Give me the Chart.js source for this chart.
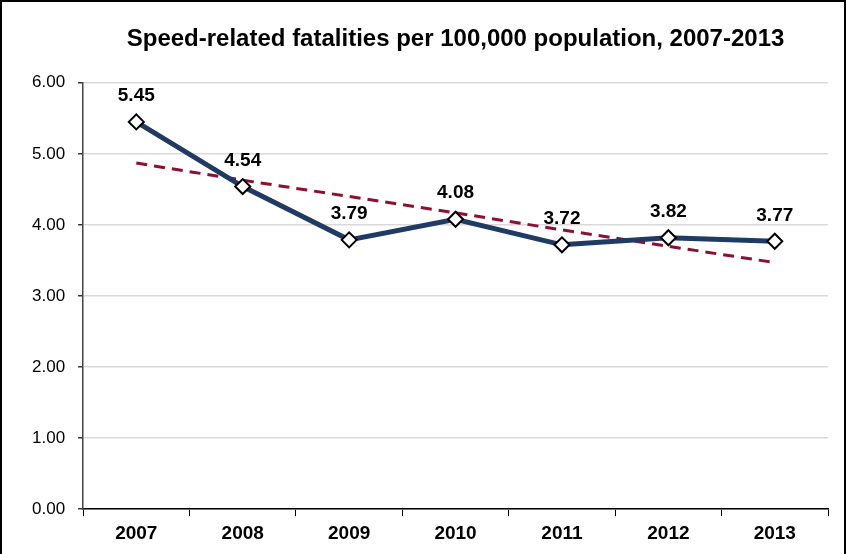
<!DOCTYPE html>
<html>
<head>
<meta charset="utf-8">
<script src="https://cdn.jsdelivr.net/npm/chart.js@4/dist/chart.umd.min.js"></script>
<style>
  html, body { margin: 0; padding: 0; background: #fff; }
  #wrap {
    width: 846px; height: 554px; box-sizing: border-box;
    border: 2px solid #000; border-bottom: none; position: relative;
  }
  canvas { display: block; }
</style>
</head>
<body>
<div id="wrap"><canvas id="speedChart" width="842" height="552"></canvas></div>
<script>
const years = ["2007", "2008", "2009", "2010", "2011", "2012", "2013"];
const fatalityRates = [5.45, 4.54, 3.79, 4.08, 3.72, 3.82, 3.77];
// trend line
const trendValues = [4.87, 4.63, 4.40, 4.17, 3.93, 3.70, 3.47];
const yTicks = [0, 1, 2, 3, 4, 5, 6];

const FONT = "'Liberation Sans', Arial, sans-serif";

const pointLabels = {
  id: "pointLabels",
  afterDatasetsDraw(chart) {
    const ctx = chart.ctx;
    const meta = chart.getDatasetMeta(1);
    ctx.save();
    ctx.font = "bold 19px " + FONT;
    ctx.fillStyle = "#000";
    ctx.textAlign = "center";
    ctx.textBaseline = "middle";
    meta.data.forEach((pt, i) => {
      ctx.fillText(fatalityRates[i].toFixed(2), pt.x, pt.y - 26);
    });
    ctx.restore();
  }
};

const ctx = document.getElementById("speedChart").getContext("2d");
new Chart(ctx, {
  type: "line",
  data: {
    labels: years,
    datasets: [
      {
        label: "Trend",
        data: trendValues,
        borderColor: "#8e0f32",
        borderWidth: 3,
        borderDash: [11, 7],
        pointRadius: 0,
        fill: false,
        order: 2
      },
      {
        label: "Speed-related fatalities per 100,000 population",
        data: fatalityRates,
        borderColor: "#1f3b63",
        borderWidth: 5,
        pointStyle: "rectRot",
        pointRadius: 7.5,
        pointBackgroundColor: "#fff",
        pointBorderColor: "#000",
        pointBorderWidth: 2,
        fill: false,
        order: 1
      }
    ]
  },
  options: {
    responsive: false,
    animation: false,
    layout: { padding: { left: 17, right: 16, top: 4, bottom: 3 } },
    plugins: {
      legend: { display: false },
      tooltip: { enabled: false },
      title: {
        display: true,
        fullSize: false,
        text: "Speed-related fatalities per 100,000 population, 2007-2013",
        color: "#000",
        font: { family: FONT, size: 24, weight: "bold" },
        padding: { top: 19, bottom: 29 }
      }
    },
    scales: {
      x: {
        offset: true,
        grid: {
          offset: true,
          drawOnChartArea: false,
          drawTicks: true,
          tickLength: 7,
          tickColor: "#000"
        },
        border: { color: "#000", width: 1.5 },
        ticks: {
          color: "#000",
          padding: 6,
          font: { family: FONT, size: 19, weight: "bold" }
        }
      },
      y: {
        min: 0,
        max: 6,
        afterBuildTicks(axis) {
          axis.ticks = yTicks.map(v => ({ value: v }));
        },
        grid: {
          color: "#d9d9d9",
          lineWidth: 1.5,
          tickLength: 5,
          tickColor: "#333"
        },
        border: { color: "#444", width: 1.5 },
        ticks: {
          color: "#000",
          padding: 13,
          font: { family: FONT, size: 17 },
          callback: v => Number(v).toFixed(2)
        }
      }
    }
  },
  plugins: [pointLabels]
});
</script>
</body>
</html>
